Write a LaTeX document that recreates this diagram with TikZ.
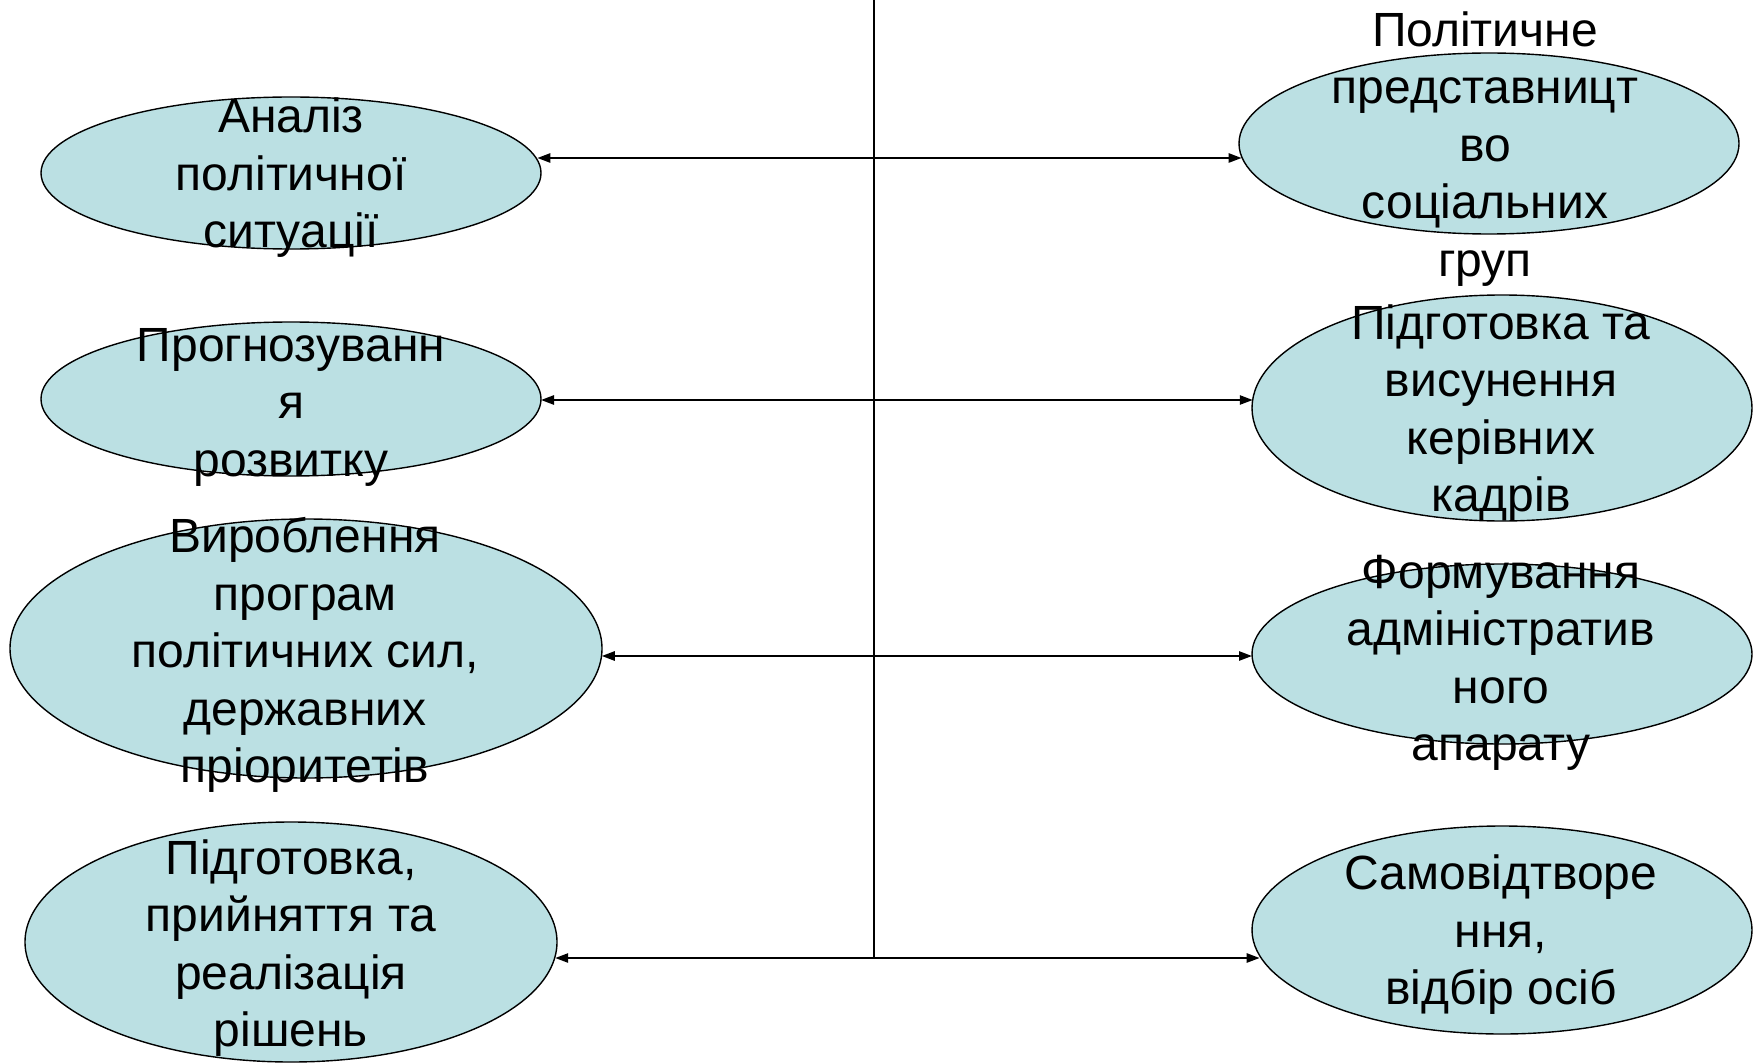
\documentclass[tikz,border=0pt]{standalone}
\usepackage{fontspec}
\setmainfont{Liberation Sans}
\usetikzlibrary{arrows.meta,shapes.geometric}
\definecolor{ellfill}{RGB}{187,224,227}
\tikzset{
  ell/.style={ellipse, draw=black, line width=0.7pt, fill=ellfill, inner sep=0pt, outer sep=0pt},
  lbl/.style={align=center, inner sep=0pt, font=\fontsize{24pt}{28.75pt}\selectfont},
  conn/.style={line width=1pt, -{Triangle[length=6.5pt,width=4.6pt]}},
  axis/.style={line width=1pt}
}
\begin{document}
\begin{tikzpicture}[x=0.5pt,y=-0.5pt]
\useasboundingbox (0,0) rectangle (1760,1064);
% left ellipses
\node[ell, minimum width=250pt, minimum height=76pt] (e1) at (291,173) {};
\node[ell, minimum width=250pt, minimum height=77pt] (e2) at (291,399) {};
\node[ell, minimum width=296pt, minimum height=129.5pt] (e3) at (306,648.5) {};
\node[ell, minimum width=266pt, minimum height=120pt] (e4) at (291,942) {};
% right ellipses
\node[ell, minimum width=250pt, minimum height=90.5pt] (r1) at (1489,143.5) {};
\node[ell, minimum width=250pt, minimum height=113pt] (r2) at (1502,408) {};
\node[ell, minimum width=250pt, minimum height=90pt] (r3) at (1502,654) {};
\node[ell, minimum width=250pt, minimum height=104pt] (r4) at (1502,930) {};
% texts
\node[lbl] (t1) at (291,178) {Аналіз\\політичної\\ситуації};
\node[lbl] (t2) at (291,407) {Прогнозуванн\\я\\розвитку};
\node[lbl] (t3) at (305,655) {Вироблення\\програм\\політичних сил,\\державних\\пріоритетів};
\node[lbl] (t4) at (291,948) {Підготовка,\\прийняття та\\реалізація\\рішень};
\node[lbl] (s1) at (1485,149) {Політичне\\представницт\\во\\соціальних\\груп};
\node[lbl] (s2) at (1501,413) {Підготовка та\\висунення\\керівних\\кадрів};
\node[lbl] (s3) at (1501,663) {Формування\\адміністратив\\ного\\апарату};
\node[lbl] (s4) at (1501,935) {Самовідтворе\\ння,\\відбір осіб};
% central line and junctions
\coordinate (top) at (874,0);
\coordinate (j1) at (874,158);
\coordinate (j2) at (874,400);
\coordinate (j3) at (874,656);
\coordinate (j4) at (874,958);
\draw[axis] (top) -- (j4);
\draw[conn] (j1) -- (j1 -| e1.3.5);
\draw[conn] (j1) -- (j1 -| r1.183.4);
\draw[conn] (j2) -- (j2 -| e2.-0.2);
\draw[conn] (j2) -- (j2 -| r2.178.2);
\draw[conn] (j3) -- (j3 -| e3.-1.45);
\draw[conn] (j3) -- (j3 -| r3.180.45);
\draw[conn] (j4) -- (j4 -| e4.-3.47);
\draw[conn] (j4) -- (j4 -| r4.186.56);
\end{tikzpicture}
\end{document}
